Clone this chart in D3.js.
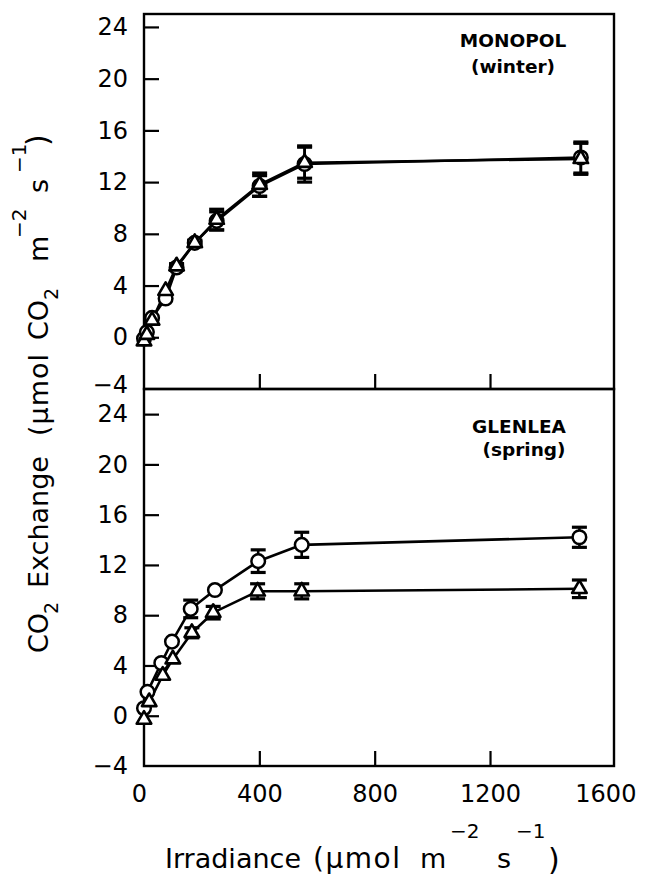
<!DOCTYPE html>
<html><head><meta charset="utf-8">
<script src="https://cdn.jsdelivr.net/npm/d3@7"></script>
<style>body{margin:0;background:#fff}svg text{font-family:"DejaVu Sans",sans-serif;fill:#000}</style>
</head><body><svg id="c" width="646" height="878"></svg>
<script>
// ---- data ----
const xTicks = [0, 400, 800, 1200, 1600];
const yTicks = [-4, 0, 4, 8, 12, 16, 20, 24];
const panelNames = ["MONOPOL", "GLENLEA"];
const panelSeasons = ["(winter)", "(spring)"];

// MONOPOL (winter)
const monoIrr = [0, 10, 28, 75, 113, 176, 252, 401, 557, 1515];
const monoCircle = [-0.1, 0.4, 1.5, 3.0, 5.4, 7.3, 9.0, 11.7, 13.4, 13.9];
const monoCircleSE = [0, 0, 0, 0, 0.2, 0.2, 0.7, 0.8, 1.4, 1.2];
const monoTriangle = [-0.3, 0.2, 1.3, 3.6, 5.5, 7.3, 9.1, 11.8, 13.5, 13.8];
const monoTriangleSE = [0, 0, 0, 0, 0.2, 0.2, 0.8, 0.9, 1.2, 1.2];

// GLENLEA (spring)
const glenIrrCircle = [0, 12, 60, 97, 162, 246, 396, 547, 1510];
const glenCircle = [0.6, 1.9, 4.2, 5.9, 8.5, 10.0, 12.3, 13.6, 14.2];
const glenCircleSE = [0, 0, 0, 0, 0.7, 0, 0.9, 1.0, 0.8];
const glenIrrTriangle = [0, 18, 65, 100, 166, 240, 394, 547, 1510];
const glenTriangle = [-0.3, 1.1, 3.2, 4.5, 6.6, 8.2, 9.9, 9.9, 10.1];
const glenTriangleSE = [0, 0, 0, 0, 0.4, 0.5, 0.6, 0.6, 0.7];

// ---- drawing ----
const svg = d3.select("#c");
const x = d3.scaleLinear().domain([0, 1630]).range([144, 614]);
const yTop = d3.scaleLinear().domain([-4, 25]).range([389, 14]);
const yBot = d3.scaleLinear().domain([-4, 26]).range([766, 389]);
const fmt = d => d < 0 ? "\u2212" + Math.abs(d) : String(d);

function toPts(xs, ys, se) { return xs.map((v, i) => ({x: v, y: ys[i], se: se[i]})); }

const panels = [
  {y: yTop, labels: false, name: panelNames[0], season: panelSeasons[0],
   nameX: 513, nameY: 47, seasonX: 513, seasonY: 73,
   series: [
     {pts: toPts(monoIrr, monoCircle, monoCircleSE), shape: "circle"},
     {pts: toPts(monoIrr, monoTriangle, monoTriangleSE), shape: "triangle"}]},
  {y: yBot, labels: true, name: panelNames[1], season: panelSeasons[1],
   nameX: 519, nameY: 433, seasonX: 524, seasonY: 456,
   series: [
     {pts: toPts(glenIrrCircle, glenCircle, glenCircleSE), shape: "circle"},
     {pts: toPts(glenIrrTriangle, glenTriangle, glenTriangleSE), shape: "triangle"}]}
];

panels.forEach((p, pi) => {
  const y = p.y;
  const g = svg.append("g");
  // y axis
  const ya = g.append("g").attr("transform", `translate(${x.range()[0]},0)`)
    .call(d3.axisLeft(y).tickValues(yTicks).tickSizeInner(-15).tickSizeOuter(0).tickPadding(16).tickFormat(fmt));
  ya.select(".domain").remove();
  ya.selectAll(".tick line").attr("stroke", "#000").attr("stroke-width", 2.2)
    .filter(d => d === -4).remove();
  ya.selectAll(".tick text").attr("font-size", 24).attr("font-family", "DejaVu Sans").attr("fill", "#000");
  if (pi === 0) ya.selectAll(".tick text").filter(d => d === -4).attr("dy", "0.16em");
  // x axis
  const xa = g.append("g").attr("transform", `translate(0,${y.range()[0]})`)
    .call(d3.axisBottom(x).tickValues(xTicks).tickSizeInner(-15).tickSizeOuter(0).tickPadding(19)
      .tickFormat(p.labels ? d => String(d) : () => ""));
  xa.select(".domain").remove();
  xa.selectAll(".tick line").attr("stroke", "#000").attr("stroke-width", 2.2)
    .filter(d => d === 0 || d === 1600).remove();
  xa.selectAll(".tick text").attr("font-size", 24).attr("font-family", "DejaVu Sans").attr("fill", "#000");
  xa.selectAll(".tick text").filter(d => d === 0).attr("dx", "-5");
  // frame
  g.append("rect").attr("x", x.range()[0]).attr("y", y.range()[1])
    .attr("width", x.range()[1] - x.range()[0]).attr("height", y.range()[0] - y.range()[1])
    .attr("fill", "none").attr("stroke", "#000").attr("stroke-width", 2.4);
  // panel labels
  g.append("text").attr("x", p.nameX).attr("y", p.nameY).attr("text-anchor", "middle")
    .attr("font-size", 18.5).attr("font-weight", "bold").text(p.name);
  g.append("text").attr("x", p.seasonX).attr("y", p.seasonY).attr("text-anchor", "middle")
    .attr("font-size", 18.5).attr("font-weight", "bold").text(p.season);

  const line = d3.line().x(d => x(d.x)).y(d => y(d.y));
  p.series.forEach(s => {
    g.append("path").datum(s.pts).attr("d", line).attr("fill", "none")
      .attr("stroke", "#000").attr("stroke-width", 2.6).attr("stroke-linejoin", "round");
  });
  p.series.forEach(s => {
    const eb = g.append("g").selectAll("g").data(s.pts.filter(d => d.se > 0)).join("g");
    eb.append("line").attr("x1", d => x(d.x)).attr("x2", d => x(d.x))
      .attr("y1", d => y(d.y - d.se)).attr("y2", d => y(d.y + d.se))
      .attr("stroke", "#000").attr("stroke-width", 2.6);
    [-1, 1].forEach(sg => {
      eb.append("line").attr("x1", d => x(d.x) - 7.5).attr("x2", d => x(d.x) + 7.5)
        .attr("y1", d => y(d.y + sg * d.se)).attr("y2", d => y(d.y + sg * d.se))
        .attr("stroke", "#000").attr("stroke-width", 3.2);
    });
  });
  p.series.forEach(s => {
    const m = g.append("g");
    if (s.shape === "circle") {
      m.selectAll("circle").data(s.pts).join("circle")
        .attr("cx", d => x(d.x)).attr("cy", d => y(d.y)).attr("r", 6.8)
        .attr("fill", "#fff").attr("stroke", "#000").attr("stroke-width", 2.5);
    } else {
      m.selectAll("path").data(s.pts).join("path")
        .attr("d", d3.symbol(d3.symbolTriangle, 92))
        .attr("transform", d => `translate(${x(d.x)},${y(d.y)})`)
        .attr("fill", "#fff").attr("stroke", "#000").attr("stroke-width", 2.6)
        .attr("stroke-linejoin", "round");
    }
  });
});

// ---- axis titles ----
const xt = svg.append("g");
const xPieces = [
  {t: "Irradiance", x: 165, y: 868, fs: 27},
  {t: "(\u03bcmol", x: 313, y: 868, fs: 28, ls: 1.5},
  {t: "m", x: 420, y: 868, fs: 27},
  {t: "\u22122", x: 450, y: 838, fs: 20},
  {t: "s", x: 497, y: 868, fs: 27},
  {t: "\u22121", x: 516, y: 838, fs: 20},
  {t: ")", x: 548, y: 870, fs: 30}
];
xPieces.forEach(p => xt.append("text").attr("x", p.x).attr("y", p.y).attr("font-size", p.fs)
  .attr("letter-spacing", p.ls || 0).text(p.t));

const yt = svg.append("g").attr("transform", "rotate(-90)");
const yPieces = [
  {t: "CO", s: 653, b: 48, fs: 27},
  {t: "2", s: 614, b: 58, fs: 19},
  {t: "Exchange", s: 588, b: 48, fs: 27},
  {t: "(\u03bcmol", s: 436, b: 48, fs: 27, ls: 1},
  {t: "CO", s: 340, b: 48, fs: 27},
  {t: "2", s: 300, b: 58, fs: 19},
  {t: "m", s: 262, b: 48, fs: 27},
  {t: "\u22122", s: 238, b: 26, fs: 20},
  {t: "s", s: 193, b: 48, fs: 27},
  {t: "\u22121", s: 173, b: 26, fs: 20},
  {t: ")", s: 146, b: 48, fs: 30}
];
yPieces.forEach(p => yt.append("text").attr("x", -p.s).attr("y", p.b).attr("font-size", p.fs)
  .attr("letter-spacing", p.ls || 0).text(p.t));
</script></body></html>
